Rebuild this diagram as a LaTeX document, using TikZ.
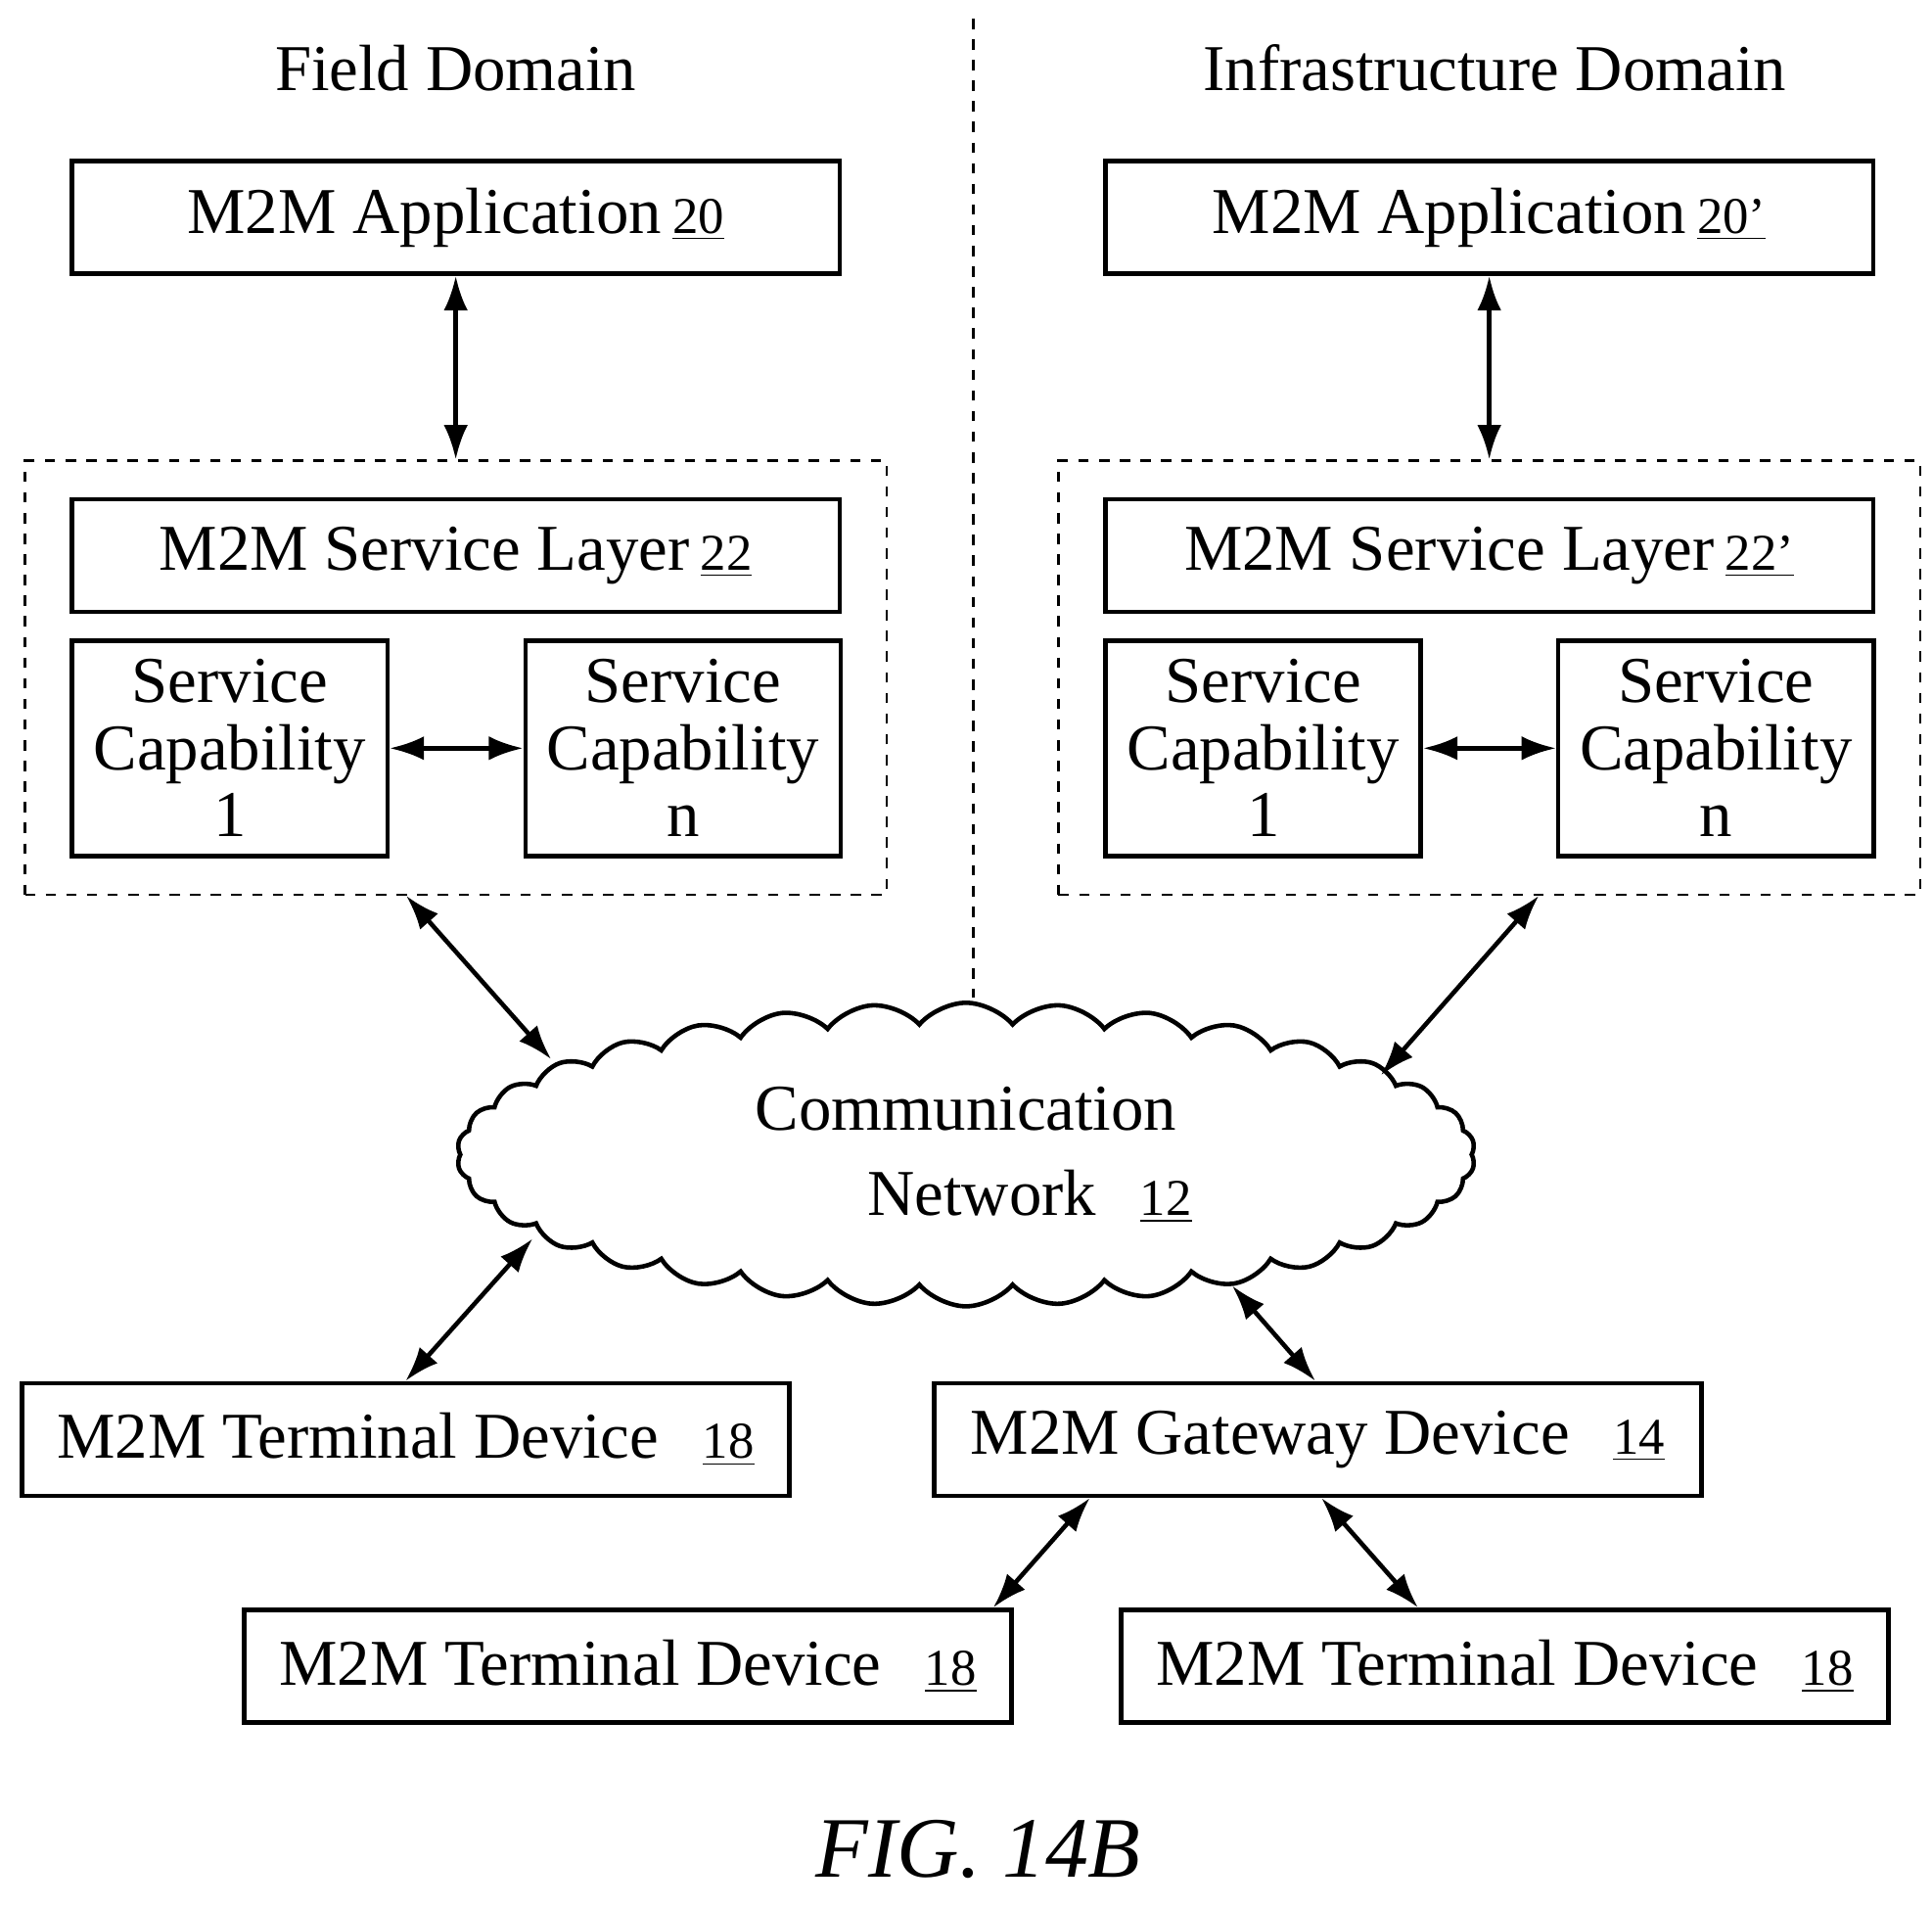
\documentclass[tikz,border=0pt]{standalone}
\usepackage{fontspec}
\setmainfont{Liberation Serif}
\usetikzlibrary{shapes.symbols,arrows.meta}

\tikzset{
  blk/.style={draw, line width=1.3pt, minimum width=7.84cm, minimum height=1.15cm, inner xsep=2pt, font=\fontsize{19}{22}\selectfont},
  scap/.style={draw, line width=1.3pt, minimum width=3.22cm, minimum height=2.2cm, align=center, inner sep=0pt, font=\fontsize{19}{19.5}\selectfont},
  grp/.style={draw, dashed, line width=0.7pt, minimum width=8.8cm, minimum height=4.43cm},
  link/.style={line width=1.3pt, {Latex[length=10pt,width=7pt]}-{Latex[length=10pt,width=7pt]}}
}
\newcommand{\refno}[1]{\,{\fontsize{15}{17}\selectfont\underline{#1}}}

\begin{document}
\begin{tikzpicture}[x=0.01265cm,y=-0.01265cm]
\useasboundingbox (0,0) rectangle (1560,1540);

\node[font=\fontsize{19}{22}\selectfont] (fd) at (368,55) {Field Domain};
\node[font=\fontsize{19}{22}\selectfont] (id) at (1207,55) {Infrastructure Domain};
\draw[dashed, line width=0.7pt] (786,15) -- (786,805);

% field side
\node[blk] (app) at (368,175.5) {M2M Application\refno{20}};
\node[grp] (grpL) at (368,547) {};
\node[blk] (sl) at (368,448.5) {M2M Service Layer\refno{22}};
\node[scap] (sc1) at (185.5,604) {Service\\Capability\\1};
\node[scap] (scn) at (551.5,604) {Service\\Capability\\n};
\draw[link] (app) -- (grpL);
\draw[link] (sc1) -- (scn);

% infrastructure side
\node[blk] (appB) at (1202.5,175.5) {M2M Application\refno{20'}};
\node[grp] (grpR) at (1202.5,547) {};
\node[blk] (slB) at (1202.5,448.5) {M2M Service Layer\refno{22'}};
\node[scap] (sc1B) at (1020,604) {Service\\Capability\\1};
\node[scap] (scnB) at (1385.5,604) {Service\\Capability\\n};
\draw[link] (appB) -- (grpR);
\draw[link] (sc1B) -- (scnB);

% network
\node[cloud, draw, line width=1.3pt, cloud puffs=34, cloud puff arc=100, cloud ignores aspect, minimum width=10.4cm, minimum height=3.1cm, inner sep=0pt, align=center, font=\fontsize{19}{25}\selectfont] (net) at (780,932) {Communication\\\hspace*{1.3cm}Network\enspace\refno{12}};

\node[blk] (td1) at (327.5,1162) {M2M Terminal Device\enspace\refno{18}};
\node[blk] (gw) at (1064,1162) {M2M Gateway Device\enspace\refno{14}};
\node[blk] (td2) at (507,1345) {M2M Terminal Device\enspace\refno{18}};
\node[blk] (td3) at (1215,1345) {M2M Terminal Device\enspace\refno{18}};

\coordinate (nL) at (445,855);
\coordinate (nR) at (1115,868);
\coordinate (nBL) at (430,1000);
\coordinate (nBR) at (995,1038);
\draw[link] ([xshift=-40*0.01265cm]grpL.south) -- (nL);
\draw[link] ([xshift=40*0.01265cm]grpR.south) -- (nR);
\draw[link] (td1.north) -- (nBL);
\draw[link] ([xshift=-2*0.01265cm]gw.north) -- (nBR);
\draw[link] ([xshift=-184*0.01265cm]gw.south) -- ([xshift=295*0.01265cm]td2.north);
\draw[link] ([xshift=3*0.01265cm]gw.south) -- ([xshift=-70*0.01265cm]td3.north);

\node[font=\fontsize{25}{30}\selectfont\itshape] (fig) at (790,1493) {FIG. 14B};
\end{tikzpicture}
\end{document}
